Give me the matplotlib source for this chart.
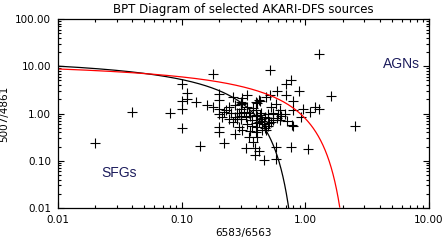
import numpy as np
import matplotlib
matplotlib.use("Agg")
import matplotlib.pyplot as plt
from matplotlib.ticker import FixedLocator, FormatStrFormatter

# line ratios
nii_ha = [0.02, 0.04, 0.08, 0.1, 0.1, 0.1, 0.1, 0.11, 0.11, 0.13, 0.14, 0.16,
          0.18, 0.18, 0.2, 0.2, 0.2, 0.2, 0.2, 0.2, 0.22, 0.21, 0.23, 0.24,
          0.25, 0.26, 0.27, 0.28, 0.28, 0.29, 0.27, 0.26, 0.3, 0.31, 0.3, 0.3,
          0.3, 0.3, 0.31, 0.32, 0.34, 0.33, 0.34, 0.35, 0.36, 0.37, 0.38, 0.39,
          0.39, 0.38, 0.4, 0.41, 0.4, 0.4, 0.41, 0.41, 0.4, 0.41, 0.42, 0.42,
          0.43, 0.44, 0.45, 0.46, 0.47, 0.46, 0.48, 0.48, 0.5, 0.5, 0.51, 0.52,
          0.52, 0.53, 0.55, 0.55, 0.58, 0.59, 0.58, 0.58, 0.59, 0.6, 0.62, 0.62,
          0.64, 0.7, 0.7, 0.76, 0.68, 0.71, 0.77, 0.78, 0.8, 0.8, 0.8, 0.89,
          0.93, 0.96, 1.06, 1.1, 1.2, 1.3, 1.3, 1.6, 2.5,
          0.33, 0.35, 0.37, 0.43, 0.44, 0.47, 0.5, 0.53, 0.29, 0.27, 0.24,
          0.45, 0.36, 0.4, 0.34, 0.22, 0.31, 0.42]
oiii_hb = [0.24, 1.1, 1.05, 4.3, 1.85, 1.25, 0.5, 2.7, 2.0, 1.75, 0.21, 1.55,
           6.8, 1.35, 2.6, 1.9, 1.25, 0.98, 0.52, 0.41, 0.24, 0.85, 1.2, 1.4,
           1.05, 2.2, 1.5, 1.05, 0.75, 0.52, 0.37, 0.65, 1.75, 1.7, 1.6, 1.25,
           0.9, 0.75, 0.45, 1.1, 2.5, 0.19, 0.6, 0.32, 0.9, 0.74, 0.25, 0.19,
           0.13, 1.3, 1.75, 1.65, 1.2, 0.95, 0.9, 0.52, 0.41, 0.32, 0.16, 0.65,
           1.8, 0.75, 0.7, 0.6, 0.5, 0.105, 2.2, 0.45, 1.0, 0.8, 0.62, 2.5,
           8.5, 1.4, 1.05, 0.72, 1.6, 3.0, 0.2, 0.11, 0.8, 1.0, 0.72, 1.2,
           0.9, 2.5, 4.2, 5.0, 1.0, 0.7, 0.2, 0.58, 0.55, 1.8, 1.2, 3.0,
           0.85, 1.25, 0.18, 1.1, 1.35, 1.25, 18.5, 2.3, 0.54,
           0.85, 1.05, 0.55, 0.95, 1.05, 0.85, 0.55, 0.65, 1.05, 0.85, 0.75,
           0.45, 0.42, 0.62, 1.35, 1.1, 2.1, 1.9]

tick_vals_x = [0.01, 0.1, 1.0, 10.0]
tick_vals_y = [0.01, 0.1, 1.0, 10.0, 100.0]

# demarcation lines: Kauffmann et al. 2003 (black), Kewley et al. 2001 (red)
kauff = (0.61, 0.05, 1.30)
kewley = (0.61, 0.47, 1.19)


def demarcation(a, b, c):
    lx = np.linspace(-2.0, b - 0.001, 2000)
    ly = a / (lx - b) + c
    keep = ly >= -2.0
    return 10 ** lx[keep], 10 ** ly[keep]


fig = plt.figure(figsize=(4.46, 2.41), dpi=100)
ax = fig.add_axes([0.130, 0.137, 0.832, 0.784])

ax.scatter(nii_ha, oiii_hb, marker="+", s=48, c="black", linewidths=0.8)

kx, ky = demarcation(*kauff)
ax.plot(kx, ky, color="black", lw=0.9)
rx, ry = demarcation(*kewley)
ax.plot(rx, ry, color="red", lw=0.9)

ax.set_xscale("log")
ax.set_yscale("log")
ax.set_xlim(0.01, 10)
ax.set_ylim(0.01, 100)

ax.xaxis.set_major_locator(FixedLocator(tick_vals_x))
ax.yaxis.set_major_locator(FixedLocator(tick_vals_y))
ax.xaxis.set_major_formatter(FormatStrFormatter("%.2f"))
ax.yaxis.set_major_formatter(FormatStrFormatter("%.2f"))
ax.tick_params(which="both", direction="in", top=True, right=True,
               labelsize=7.5, width=0.8, pad=5)
ax.tick_params(which="major", length=4.5)
ax.tick_params(which="minor", length=2.2)
for s in ax.spines.values():
    s.set_linewidth(0.9)

ax.set_title("BPT Diagram of selected AKARI-DFS sources", fontsize=8.5, pad=4)
ax.set_xlabel("6583/6563", fontsize=7.5, labelpad=2)
ax.set_ylabel("5007/4861", fontsize=7.5, labelpad=4)

ax.text(6.0, 11.2, "AGNs", fontsize=10, color="#1c1c5c", ha="center",
        va="center", family="Liberation Sans")
ax.text(0.031, 0.055, "SFGs", fontsize=10, color="#1c1c5c", ha="center",
        va="center", family="Liberation Sans")

fig.savefig("out.png", dpi=100)
